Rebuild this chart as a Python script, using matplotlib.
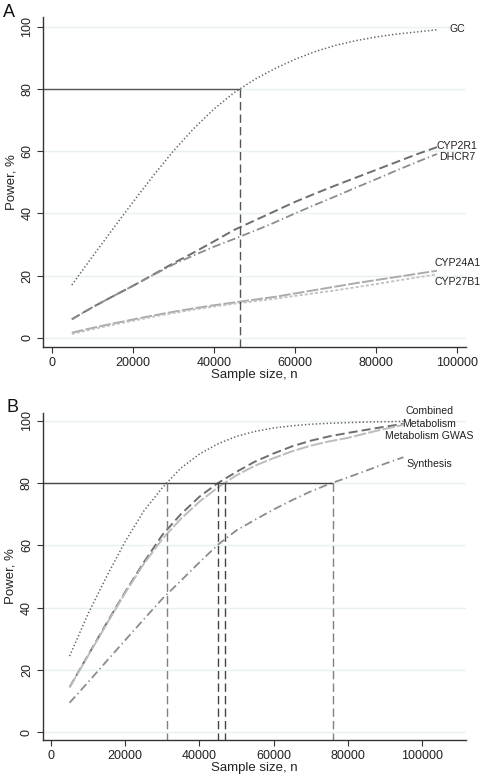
import matplotlib
matplotlib.use("Agg")
import matplotlib.pyplot as plt

plt.rcParams['font.family'] = ['Liberation Sans', 'DejaVu Sans']
plt.rcParams['lines.scale_dashes'] = False

# ---------------- data ----------------
n = [5000, 10000, 15000, 20000, 25000, 30000, 35000, 40000, 45000, 50000,
     55000, 60000, 65000, 70000, 75000, 80000, 85000, 90000, 95000]

# Panel A
gc      = [17, 26, 34.8, 43.5, 52, 60, 67.2, 73.5, 78.8, 83, 86.5, 89.5, 92, 94, 95.5, 96.7, 97.6, 98.3, 99]
cyp2r1  = [6, 9.8, 13.3, 16.7, 20.3, 24, 27.4, 31, 34.7, 37.7, 40.7, 43.7, 46.4, 49, 51.5, 54, 56.5, 59, 61.3]
dhcr7   = [6, 9.8, 13.3, 16.7, 20.2, 23.6, 26.5, 29.3, 31.8, 34.4, 37.1, 40, 42.8, 45.5, 48.3, 51, 53.8, 56.5, 59.1]
cyp24a1 = [1.7, 3.2, 4.6, 5.9, 7.2, 8.4, 9.5, 10.5, 11.4, 12.3, 13.2, 14.3, 15.4, 16.5, 17.6, 18.6, 19.6, 20.6, 21.6]
cyp27b1 = [1.3, 2.8, 4.2, 5.5, 6.8, 8, 9.1, 10.1, 11, 11.8, 12.6, 13.5, 14.4, 15.3, 16.3, 17.3, 18.4, 19.4, 20.5]
a_labels = ['GC', 'CYP2R1', 'DHCR7', 'CYP24A1', 'CYP27B1']
a_label_y = [99.1, 61.8, 58.0, 24.0, 17.9]
a_n80 = [46400]

# Panel B
combined   = [24.4, 38, 50, 61.2, 71, 78.5, 84.8, 89.3, 92.6, 95, 96.6, 97.7, 98.4, 98.9, 99.2, 99.4, 99.6, 99.7, 99.8]
metabolism = [14.4, 24.7, 35, 45, 54.5, 63.3, 70, 75.6, 80, 83.6, 86.9, 89.5, 91.8, 93.6, 95, 96.1, 97.1, 98.1, 99]
metab_gwas = [14.4, 24.5, 34.7, 44.7, 54, 62, 68.5, 74, 78.6, 82.5, 85.6, 88, 90.2, 92, 93.4, 94.5, 96, 97.4, 98.7]
synthesis  = [9.4, 16, 22.8, 29.5, 36.2, 42.8, 48.6, 54.5, 60.2, 64.8, 68.2, 71.5, 74.5, 77.3, 79.7, 81.8, 84, 86.2, 88.3]
b_labels = ['Combined', 'Metabolism', 'Metabolism GWAS', 'Synthesis']
b_label_y = [103.1, 99.1, 95.1, 86.1]
b_n80 = [31200, 45100, 47000, 75900]

yticks = [0, 20, 40, 60, 80, 100]
a_xticks = [0, 20000, 40000, 60000, 80000, 100000]
b_xticks = [0, 20000, 40000, 60000, 80000, 100000]

# ---------------- figure ----------------
W, H = 484, 780
fig = plt.figure(figsize=(W / 100, H / 100), dpi=100)

GRID = '#e9f0f1'
SPINE = '#333333'


def style_axes(ax, xticks, xlim, ylim):
    ax.set_xlim(*xlim)
    ax.set_ylim(*ylim)
    ax.set_xticks(xticks)
    ax.set_xticklabels([str(t) for t in xticks])
    ax.set_yticks(yticks)
    ax.set_yticklabels([str(t) for t in yticks], rotation=90, va='center')
    for s in ['top', 'right']:
        ax.spines[s].set_visible(False)
    for s in ['left', 'bottom']:
        ax.spines[s].set_color(SPINE)
        ax.spines[s].set_linewidth(1.0)
    ax.tick_params(axis='both', direction='out', length=4, width=0.8,
                   color=SPINE, labelsize=9, labelcolor='#222222', pad=3)
    for y in yticks:
        ax.axhline(y, color=GRID, lw=1.0, zorder=0)
    ax.set_xlabel('Sample size, n', fontsize=9.5, color='#222222', labelpad=0)
    ax.set_ylabel('Power, %', fontsize=9.5, color='#222222', labelpad=3)


# ---- Panel A ----
axA = fig.add_axes([43 / W, 1 - 347 / H, 423 / W, 330 / H])
styleA_xlim = (-2100, 102150)
styleA_ylim = (-2.9, 103.1)
style_axes(axA, a_xticks, styleA_xlim, styleA_ylim)

axA.plot(n, gc, color='#666666', lw=1.1, linestyle=(0, (1.0, 1.6)))
axA.plot(n, cyp2r1, color='#6e6e6e', lw=1.4, linestyle=(0, (6.5, 3)))
axA.plot(n, dhcr7, color='#8c8c8c', lw=1.3, linestyle=(0, (6, 2.2, 1, 2.2)))
axA.plot(n, cyp24a1, color='#ababab', lw=1.4, linestyle=(0, (8.5, 1.6)))
axA.plot(n, cyp27b1, color='#c0c0c0', lw=1.3, linestyle=(0, (2.2, 1.5)))

for x80 in a_n80:
    axA.plot([styleA_xlim[0], x80], [80, 80], color='#555555', lw=1.0, solid_capstyle='butt')
    axA.plot([x80, x80], [80, styleA_ylim[0]], color='#555555', lw=1.0, linestyle=(0, (6, 3)))

for lab, y in zip(a_labels, a_label_y):
    axA.text(100000, y, lab, ha='center', va='center', fontsize=7.6, color='#222222')

# ---- Panel B ----
axB = fig.add_axes([42.7 / W, 1 - 740 / H, 423.3 / W, 327.3 / H])
styleB_xlim = (-2240, 111860)
styleB_ylim = (-2.57, 102.6)
style_axes(axB, b_xticks, styleB_xlim, styleB_ylim)

axB.plot(n, combined, color='#666666', lw=1.1, linestyle=(0, (1.0, 1.6)))
axB.plot(n, metabolism, color='#6e6e6e', lw=1.4, linestyle=(0, (6.5, 3)))
axB.plot(n, metab_gwas, color='#bcbcbc', lw=1.4, linestyle=(0, (9, 1.6)))
axB.plot(n, synthesis, color='#8c8c8c', lw=1.3, linestyle=(0, (6, 2.5, 1, 2.5)))

axB.plot([styleB_xlim[0], max(b_n80)], [80, 80], color='#444444', lw=1.0, solid_capstyle='butt')
vcols = ['#808080', '#444444', '#444444', '#808080']
for x80, c in zip(b_n80, vcols):
    axB.plot([x80, x80], [80, styleB_ylim[0]], color=c, lw=1.0, linestyle=(0, (6, 3)))

for lab, y in zip(b_labels, b_label_y):
    axB.text(102000, y, lab, ha='center', va='center', fontsize=7.6, color='#222222',
             clip_on=False)

# panel letters
fig.text(3 / W, 1 - 4 / H, 'A', ha='left', va='top', fontsize=13, color='#111111')
fig.text(7 / W, 1 - 399 / H, 'B', ha='left', va='top', fontsize=13, color='#111111')

fig.savefig('out.png', dpi=100)
